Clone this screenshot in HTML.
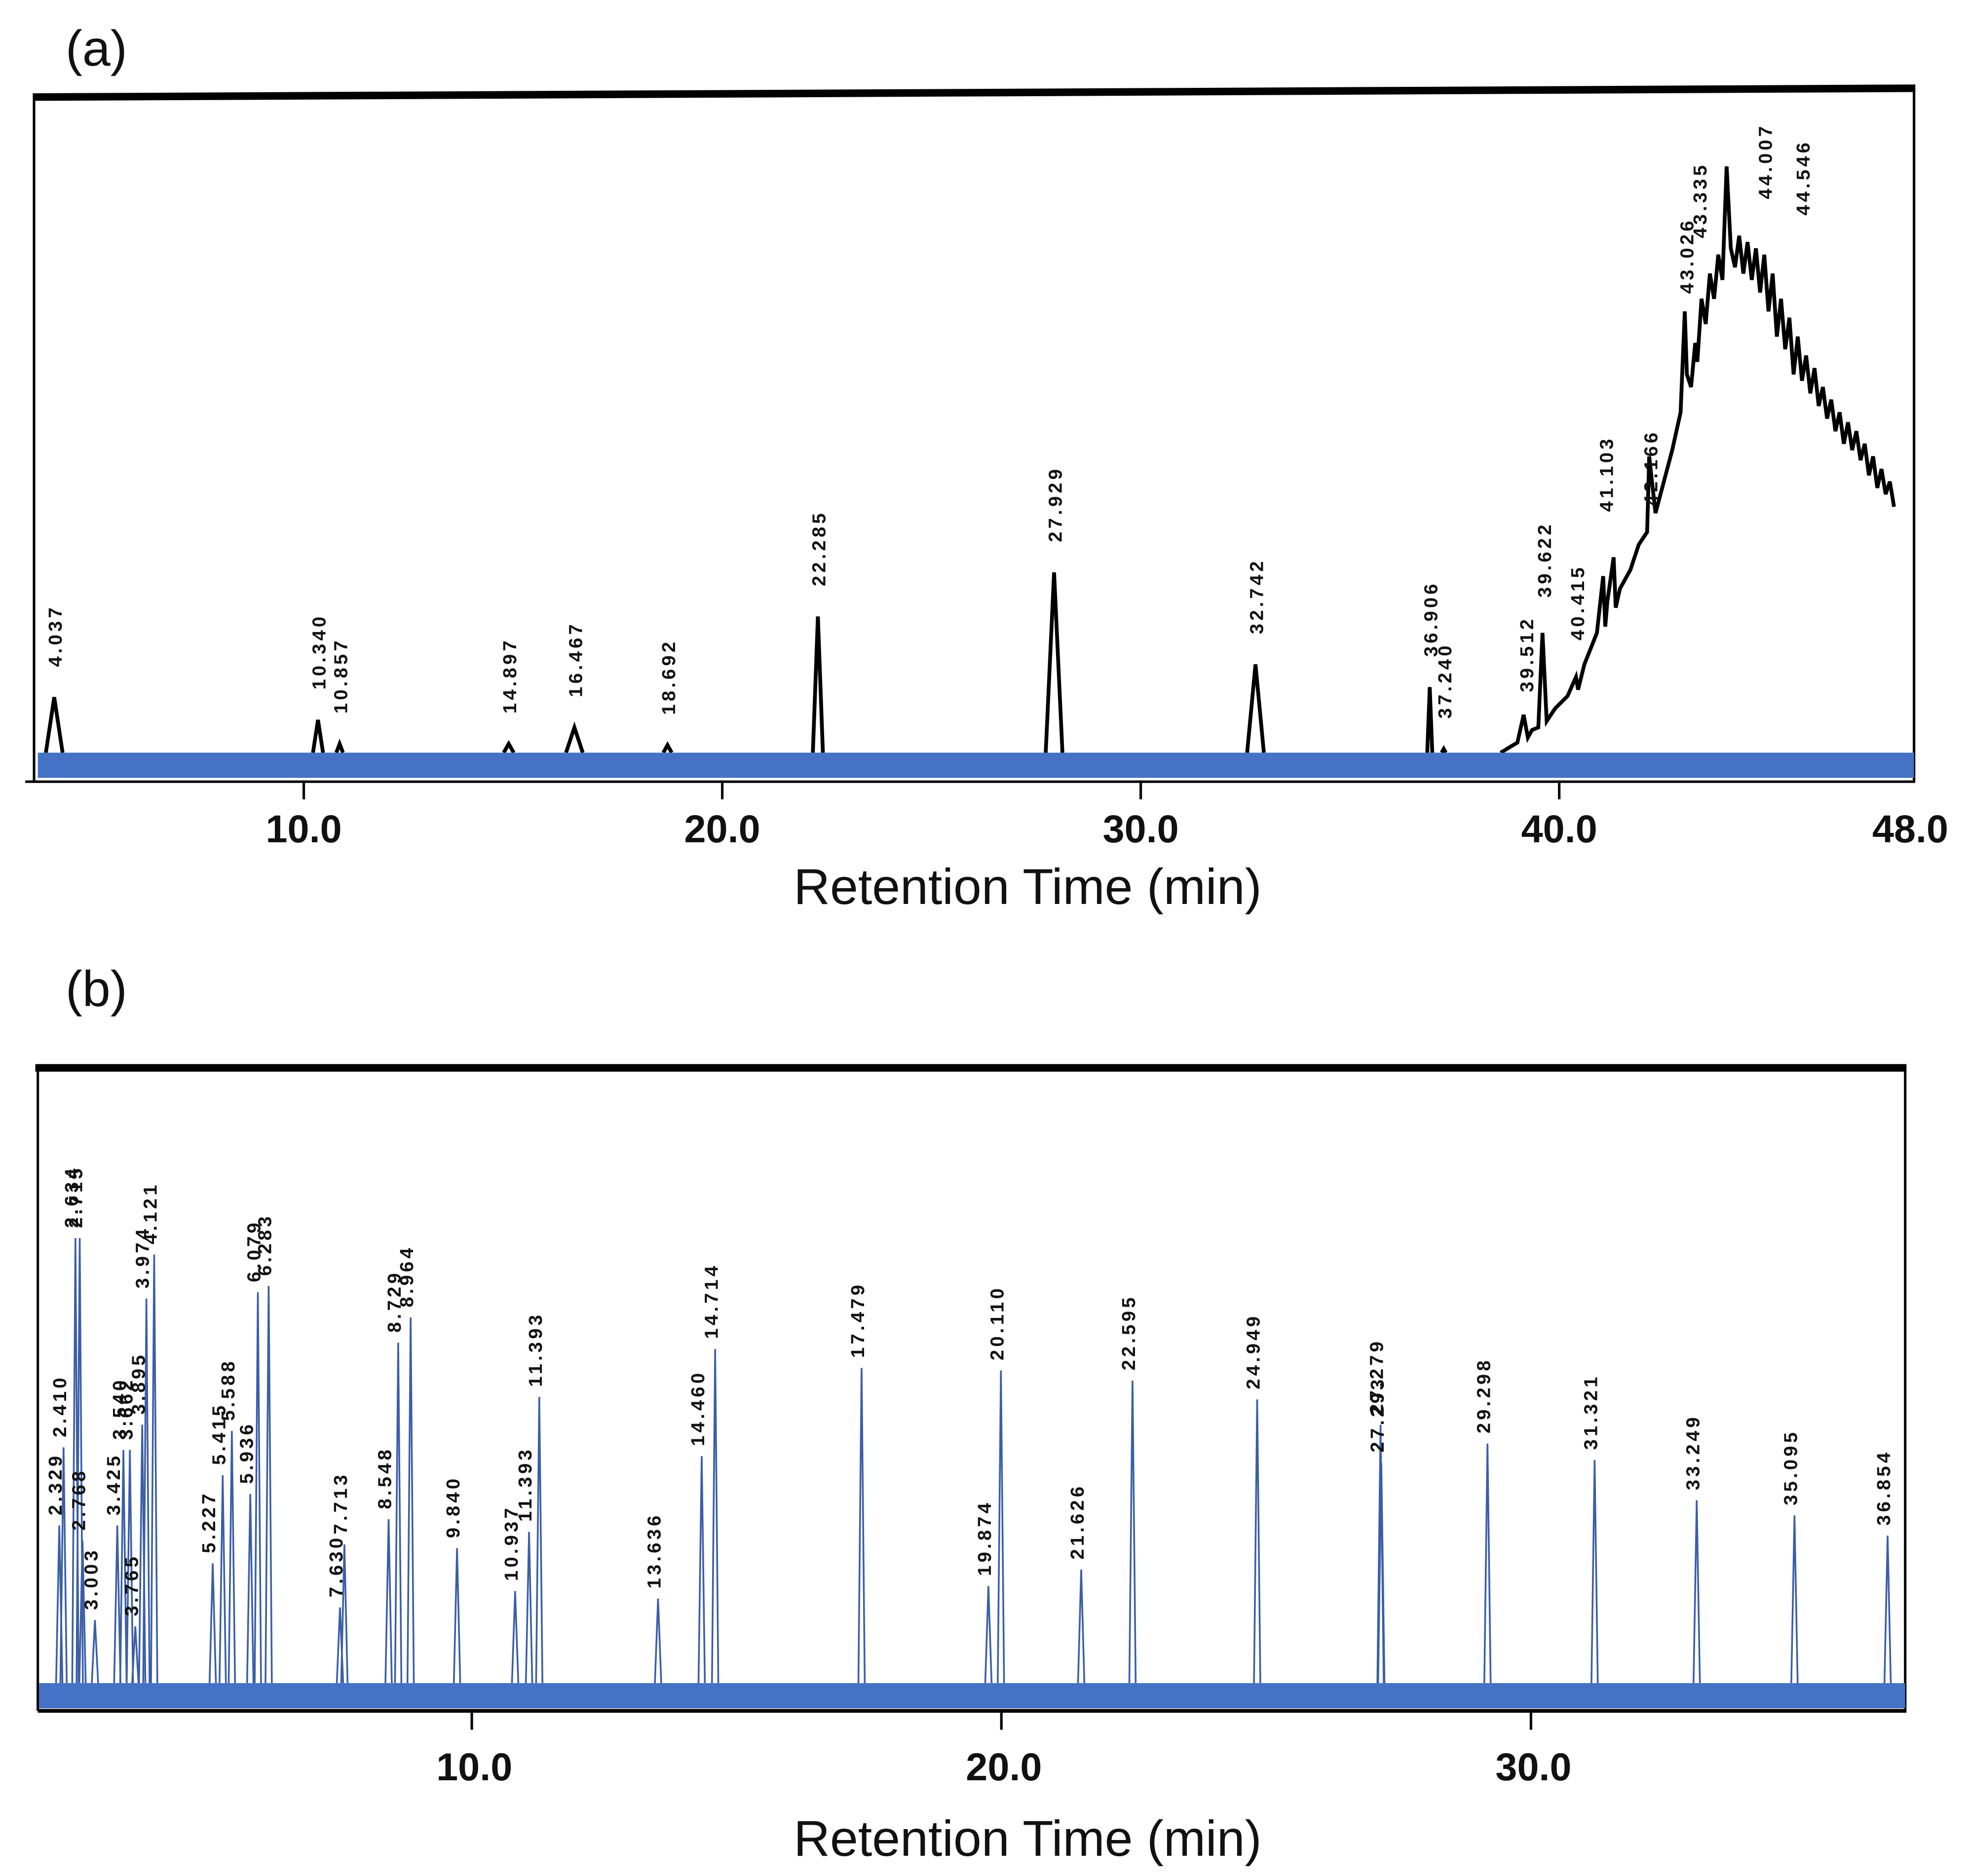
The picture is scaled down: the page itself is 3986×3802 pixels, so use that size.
<!DOCTYPE html>
<html><head><meta charset="utf-8"><style>
html,body{margin:0;padding:0;background:#fff;}
svg{display:block;}
text{font-family:"Liberation Sans",sans-serif;}
.pl{font-size:15px;font-weight:bold;letter-spacing:2.4px;fill:#111;}
.tk{font-size:31px;font-weight:bold;fill:#111;}
.tt{font-size:40px;fill:#111;}
</style></head><body>
<svg id="fig" width="3986" height="3802" viewBox="0 0 1560 1488" xmlns="http://www.w3.org/2000/svg">
<g id="pa">
<text x="52" y="52" class="tt">(a)</text>
<line x1="26" y1="77" x2="1519" y2="70" stroke="#000" stroke-width="6"/>
<line x1="27" y1="75" x2="27" y2="620" stroke="#000" stroke-width="2"/>
<line x1="1518" y1="70" x2="1518" y2="620" stroke="#000" stroke-width="2"/>
<line x1="20" y1="620" x2="1519" y2="620" stroke="#000" stroke-width="2"/>
<text x="815" y="717" text-anchor="middle" class="tt">Retention Time (min)</text>
</g>
<g id="pb">
<text x="52" y="798" class="tt">(b)</text>
<line x1="28" y1="847" x2="1512" y2="847" stroke="#000" stroke-width="6"/>
<line x1="30" y1="847" x2="30" y2="1357" stroke="#000" stroke-width="2"/>
<line x1="1511" y1="847" x2="1511" y2="1357" stroke="#000" stroke-width="2"/>
<line x1="30" y1="1357" x2="1512" y2="1357" stroke="#000" stroke-width="3"/>
<text x="815" y="1472" text-anchor="middle" class="tt">Retention Time (min)</text>
</g>
</svg>
<script>
// ---------- Panel (a) data ----------
const aPeakT = [4.037,10.340,10.857,14.897,16.467,18.692,22.285,27.929,32.742,36.906,37.240];
const aPeakH = [44,26,7,7,20,6,108,143,70,52,3];
const aPeakW = [0.2,0.12,0.08,0.12,0.2,0.1,0.12,0.2,0.2,0.06,0.05];
const humpT = [38.6,39.0,39.15,39.25,39.35,39.5,39.6,39.7,39.9,40.2,
 40.4,40.45,40.6,40.9,41.05,41.1,41.15,41.3,41.35,41.45,
 41.7,41.9,42.1,42.15,42.3,42.5,42.7,42.9,
 43.0,43.05,43.15,43.25,43.3,43.4,43.5,43.6,43.7,43.8,43.9,
 44.0,44.1,44.2,44.3,44.4,44.5,44.6,44.7,44.8,44.9,
 45.0,45.1,45.2,45.3,45.4,45.5,45.6,45.7,45.8,45.9,
 46.0,46.1,46.2,46.3,46.4,46.5,46.6,46.7,46.8,46.9,
 47.0,47.1,47.2,47.3,47.4,47.5,47.6,47.7,47.8,47.9,48.0];
const humpH = [0,8,30,12,18,20,95,25,35,45,
 60,50,70,95,140,100,120,155,115,130,
 145,165,175,235,190,215,240,270,
 350,300,290,325,310,360,340,380,360,395,375,
 465,400,385,410,380,405,375,400,365,395,
 350,380,330,360,320,345,300,330,295,315,
 285,305,275,290,265,280,255,270,245,262,
 240,255,232,245,220,235,210,225,205,215,195];
const aLabels = ["4.037","10.340","10.857","14.897","16.467","18.692","22.285","27.929","32.742","36.906","37.240",
 "39.512","39.622","40.415","41.103","42.166","43.026","43.335","44.007","44.546"];
const aLabelT = [4.037,10.340,10.857,14.897,16.467,18.692,22.285,27.929,32.742,36.906,37.240,
 39.2,39.622,40.415,41.103,42.166,43.026,43.335,44.9,45.8];
const aLabelLevel = [44,26,7,7,20,6,108,143,70,52,3,24,99,65,167,172,340,384,415,402];
const aTicks = [10,20,30,40,48];
const aTickLabels = ["10.0","20.0","30.0","40.0","48.0"];

// ---------- Panel (b) data ----------
const bPeakT = [2.329,2.410,2.634,2.715,2.768,3.003,3.425,3.540,3.662,3.765,3.895,3.974,4.121,
 5.227,5.415,5.588,5.936,6.079,6.283,7.630,7.713,8.548,8.729,8.964,9.840,10.937,11.200,11.393,
 13.636,14.460,14.714,17.479,19.874,20.110,21.626,22.595,24.949,27.279,27.293,29.298,31.321,33.249,35.095,36.854];
const bPeakH = [125,187,353,353,113,50,125,185,185,45,205,305,340,
 95,165,200,150,310,315,60,110,130,270,290,107,73,120,227,
 67,180,265,250,77,248,90,240,225,205,175,190,177,145,133,117];
const bLabels = ["2.329","2.410","2.634","2.715","2.768","3.003","3.425","3.540","3.662","3.765","3.895","3.974","4.121",
 "5.227","5.415","5.588","5.936","6.079","6.283","7.630","7.713","8.548","8.729","8.964","9.840","10.937","11.393","11.393",
 "13.636","14.460","14.714","17.479","19.874","20.110","21.626","22.595","24.949","27.279","27.293","29.298","31.321","33.249","35.095","36.854"];
const bTicks = [10,20,30];
const bTickLabels = ["10.0","20.0","30.0"];

const NS = "http://www.w3.org/2000/svg";
function mk(tag, attrs, parent){ const e=document.createElementNS(NS,tag); for(const k in attrs) e.setAttribute(k,attrs[k]); parent.appendChild(e); return e; }

const axA = t => 43 + (t - 4.037) * 33.19;
const ayA = v => 597 - v;
const axB = t => 47 + (t - 2.329) * 42.0;
const ayB = v => 1335 - v;

const pa = document.getElementById('pa');
const pb = document.getElementById('pb');

aPeakT.forEach((t,i)=>{
  const w=aPeakW[i];
  const p=mk('polyline',{points:`${axA(t-w)},${ayA(0)} ${axA(t)},${ayA(aPeakH[i])} ${axA(t+w)},${ayA(0)}`,fill:'none',stroke:'#000','stroke-width':3},pa);
  
  
});
const hp = humpT.map((t,i)=>`${axA(t)},${ayA(humpH[i])}`).join(' ');
const hump = mk('polyline',{points:hp,fill:'none',stroke:'#000','stroke-width':3},pa);


const baA = mk('rect',{x:30,y:597,width:1488,height:20,fill:'#4472c4'},pa);


aLabels.forEach((s,i)=>{
  const x=axA(aLabelT[i])+6, y=ayA(aLabelLevel[i])-24;
  const tx=mk('text',{x:x,y:y,transform:`rotate(-90 ${x} ${y})`,class:'pl'},pa);
  tx.textContent=s;
  
  
});
aTicks.forEach((t,i)=>{
  const x=axA(t);
  if(t<48){ const l=mk('line',{x1:x,y1:620,x2:x,y2:634,stroke:'#000','stroke-width':2},pa);
    
     }
  const tx=mk('text',{x:(t==48?1515:x),y:668,'text-anchor':'middle',class:'tk'},pa);
  tx.textContent=aTickLabels[i];
  
  
});

bPeakT.forEach((t,i)=>{
  const p=mk('polyline',{points:`${axB(t-0.06)},${ayB(0)} ${axB(t)},${ayB(bPeakH[i])} ${axB(t+0.06)},${ayB(0)}`,fill:'none',stroke:'#3b5ea8','stroke-width':1.4},pb);
  
  
});
const baB = mk('rect',{x:31,y:1335,width:1480,height:20,fill:'#4472c4'},pb);


bLabels.forEach((s,i)=>{
  const x=axB(bPeakT[i])+2, y=ayB(bPeakH[i])-8;
  const tx=mk('text',{x:x,y:y,transform:`rotate(-90 ${x} ${y})`,class:'pl'},pb);
  tx.textContent=s;
  
  
});
bTicks.forEach((t,i)=>{
  const x=axB(t)+5;
  const l=mk('line',{x1:x,y1:1357,x2:x,y2:1372,stroke:'#000','stroke-width':2},pb);
  
  
  const tx=mk('text',{x:x+2,y:1412,'text-anchor':'middle',class:'tk'},pb);
  tx.textContent=bTickLabels[i];
  
  
});
</script>
</body></html>
